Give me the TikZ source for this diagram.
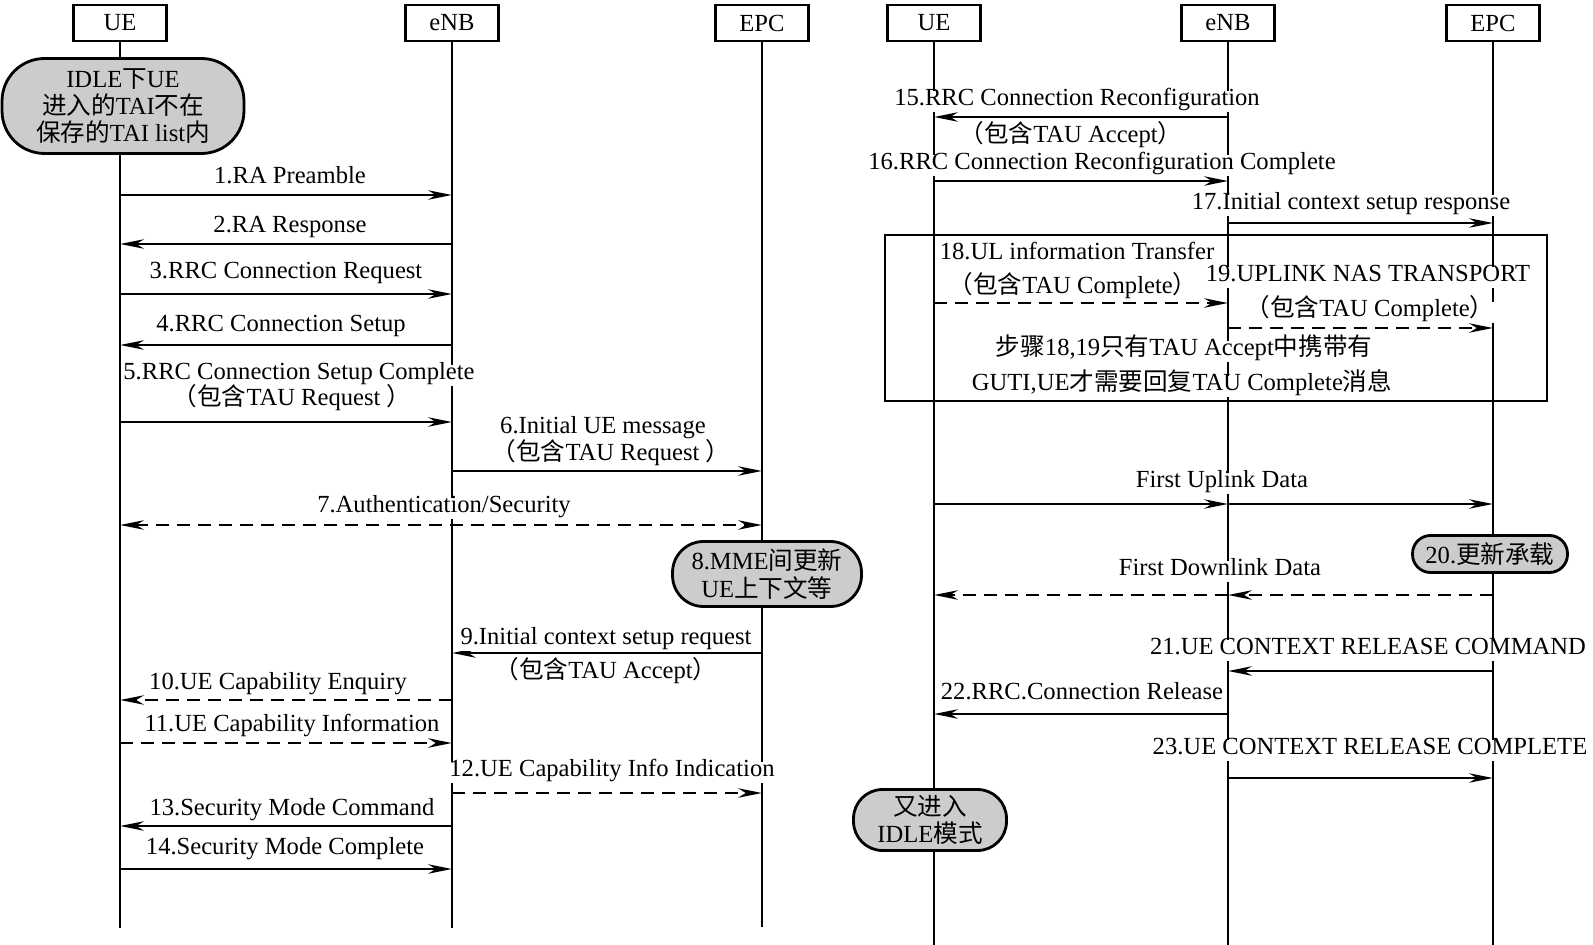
\documentclass[tikz,border=0pt]{standalone}
\usepackage{fontspec}
\setmainfont{Liberation Serif}
\newfontfamily\cjk{Noto Sans CJK SC}
\newcommand{\zh}[1]{{\cjk #1}}
\usetikzlibrary{arrows.meta}

\begin{document}
\begin{tikzpicture}[x=0.02cm,y=-0.02cm,>={Stealth[length=0.48cm,width=0.19cm]},
  font=\fontsize{14}{15.5}\selectfont,
  actor/.style={draw,line width=1.5pt,minimum width=1.86cm,minimum height=0.72cm,inner sep=0pt,fill=white},
  life/.style={line width=0.8pt},
  msg/.style={line width=1.1pt,->},
  dmsg/.style={msg,dash pattern=on 0.26cm off 0.16cm},
  lbl/.style={fill=white,inner sep=1pt,text height=0.72em,text depth=0.22em,yshift=-2pt},
  state/.style={draw,line width=1.6pt,fill=black!20,align=center,inner sep=0pt}]
  \useasboundingbox (0,0) rectangle (1593,945);
  \node[actor] (ue1) at (120,23) {UE};
  \node[actor] (enb1) at (452,23) {eNB};
  \node[actor] (epc1) at (762,23) {EPC};
  \node[actor] (ue2) at (934,23) {UE};
  \node[actor] (enb2) at (1228,23) {eNB};
  \node[actor] (epc2) at (1493,23) {EPC};
  \foreach \p/\e in {ue1/928,enb1/928,epc1/927,ue2/945,enb2/945,epc2/945}
    \draw[life] (\p) -- (\p |- 0,\e);

  \node[state,minimum width=4.84cm,minimum height=1.9cm,rounded corners=0.85cm] (idle) at (123,106)
    {IDLE\zh{下}UE\\\zh{进入的}TAI\zh{不在}\\\zh{保存的}TAI list\zh{内}};

  \draw[msg] (ue1 |- 0,195) -- (enb1 |- 0,195);
  \node[lbl] (t1) at (290,176) {1.RA Preamble};
  \draw[msg] (enb1 |- 0,244) -- (ue1 |- 0,244);
  \node[lbl] (t2) at (290,225) {2.RA Response};
  \draw[msg] (ue1 |- 0,294) -- (enb1 |- 0,294);
  \node[lbl] (t3) at (286,271) {3.RRC Connection Request};
  \draw[msg] (enb1 |- 0,345) -- (ue1 |- 0,345);
  \node[lbl] (t4) at (281,324) {4.RRC Connection Setup};
  \draw[msg] (ue1 |- 0,422) -- (enb1 |- 0,422);
  \node[lbl] (t5) at (299,372) {5.RRC Connection Setup Complete};
  \node[lbl] (t5b) at (292,398) {\zh{（包含}TAU Request \zh{）}};
  \draw[msg] (enb1 |- 0,471) -- (epc1 |- 0,471);
  \node[lbl] (t6) at (603,426) {6.Initial UE message};
  \node[lbl] (t6b) at (611,453) {\zh{（包含}TAU Request \zh{）}};
  \draw[dmsg,<->] (ue1 |- 0,525) -- (epc1 |- 0,525);
  \node[lbl] (t7) at (444,505) {7.Authentication/Security};

  \node[state,minimum width=3.78cm,minimum height=1.3cm,rounded corners=0.62cm] (mme) at (767,574)
    {8.MME\zh{间更新}\\UE\zh{上下文等}};

  \draw[msg] (epc1 |- 0,653) -- (enb1 |- 0,653);
  \node[lbl] (t9) at (606,637) {9.Initial context setup request};
  \node[lbl] (t9b) at (606,671) {\zh{（包含}TAU Accept\zh{）}};
  \draw[dmsg] (enb1 |- 0,700) -- (ue1 |- 0,700);
  \node[lbl] (t10) at (278,682) {10.UE Capability Enquiry};
  \draw[dmsg] (ue1 |- 0,743) -- (enb1 |- 0,743);
  \node[lbl] (t11) at (292,724) {11.UE Capability Information};
  \draw[dmsg] (enb1 |- 0,793) -- (epc1 |- 0,793);
  \node[lbl] (t12) at (612,769) {12.UE Capability Info Indication};
  \draw[msg] (enb1 |- 0,826) -- (ue1 |- 0,826);
  \node[lbl] (t13) at (292,808) {13.Security Mode Command};
  \draw[msg] (ue1 |- 0,869) -- (enb1 |- 0,869);
  \node[lbl] (t14) at (285,847) {14.Security Mode Complete};

  \draw[msg] (enb2 |- 0,117) -- (ue2 |- 0,117);
  \node[lbl] (t15) at (1077,98) {15.RRC Connection Reconfiguration};
  \node[lbl] (t15b) at (1071,135) {\zh{（包含}TAU Accept\zh{）}};
  \draw[msg] (ue2 |- 0,181) -- (enb2 |- 0,181);
  \node[lbl] (t16) at (1102,162) {16.RRC Connection Reconfiguration Complete};
  \draw[msg] (enb2 |- 0,223) -- (epc2 |- 0,223);
  \node[lbl] (t17) at (1351,202) {17.Initial context setup response};

  \draw[line width=0.9pt] (885,235) rectangle (1547,401);
  \draw[dmsg] (ue2 |- 0,303) -- (enb2 |- 0,303);
  \node[lbl] (t18) at (1077,252) {18.UL information Transfer};
  \node[lbl] (t18b) at (1073,286) {\zh{（包含}TAU Complete\zh{）}};
  \draw[dmsg] (enb2 |- 0,328) -- (epc2 |- 0,328);
  \node[lbl] (t19) at (1368,274) {19.UPLINK NAS TRANSPORT};
  \node[lbl] (t19b) at (1370,309) {\zh{（包含}TAU Complete\zh{）}};
  \node[lbl] (note1) at (1184,348) {\zh{步骤}18,19\zh{只有}TAU Accept\zh{中携带有}};
  \node[lbl] (note2) at (1182,383) {GUTI,UE\zh{才需要回复}TAU Complete\zh{消息}};

  \draw[msg] (ue2 |- 0,504) -- (enb2 |- 0,504);
  \draw[msg] (enb2 |- 0,504) -- (epc2 |- 0,504);
  \node[lbl] (tul) at (1222,480) {First Uplink Data};

  \node[state,minimum width=3.1cm,minimum height=0.74cm,rounded corners=0.36cm] (bearer) at (1490,554)
    {20.\zh{更新承载}};

  \draw[dmsg] (epc2 |- 0,595) -- (enb2 |- 0,595);
  \draw[dmsg] (enb2 |- 0,595) -- (ue2 |- 0,595);
  \node[lbl] (tdl) at (1220,568) {First Downlink Data};
  \draw[msg] (epc2 |- 0,671) -- (enb2 |- 0,671);
  \node[lbl] (t21) at (1368,647) {21.UE CONTEXT RELEASE COMMAND};
  \draw[msg] (enb2 |- 0,714) -- (ue2 |- 0,714);
  \node[lbl] (t22) at (1082,692) {22.RRC.Connection Release};
  \draw[msg] (enb2 |- 0,778) -- (epc2 |- 0,778);
  \node[lbl] (t23) at (1370,747) {23.UE CONTEXT RELEASE COMPLETE};

  \node[state,minimum width=3.06cm,minimum height=1.22cm,rounded corners=0.58cm] (idle2) at (930,820)
    {\zh{又进入}\\IDLE\zh{模式}};
\end{tikzpicture}
\end{document}
